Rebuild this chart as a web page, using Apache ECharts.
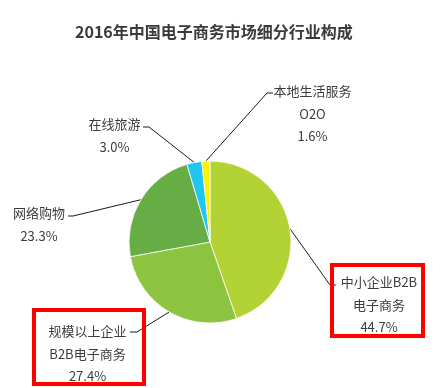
<!DOCTYPE html>
<html>
<head>
<meta charset="utf-8">
<script src="https://cdn.jsdelivr.net/npm/echarts@6/dist/echarts.min.js"></script>
<style>html,body{margin:0;padding:0;background:#fff}#c{width:447px;height:388px}</style>
</head>
<body>
<div id="c"></div>
<script>
// Data
const titleText = '2016年中国电子商务市场细分行业构成';
const categories = ['中小企业B2B\n电子商务', '规模以上企业\nB2B电子商务', '网络购物', '在线旅游', '本地生活服务\nO2O'];
const shares = [44.7, 27.4, 23.3, 3.0, 1.6];
const colors = ['#b3d334', '#8cc43f', '#67ad45', '#1fc7f0', '#fff200'];

// Label layout (text block centre-x / top, leader elbow and end)
const labelPos = [
  {x: 379, y: 271, elbow: [330, 285], end: [336, 285]},
  {x: 87.5, y: 320, elbow: [137, 332], end: [130, 332]},
  {x: 39, y: 202, elbow: [73, 216], end: [68, 216]},
  {x: 114.5, y: 113, elbow: [149, 127], end: [143, 127]},
  {x: 312.5, y: 80, elbow: [267, 93], end: [273, 93]}
];

const chart = echarts.init(document.getElementById('c'), null, {renderer: 'canvas'});
const font = '"Noto Sans CJK SC", "Microsoft YaHei", sans-serif';
chart.setOption({
  animation: false,
  title: {
    text: titleText,
    left: 70,
    top: 19,
    textStyle: {fontFamily: font, fontSize: 16, fontWeight: 'bold', color: '#3a3a3a'}
  },
  graphic: [
    {type: 'rect', shape: {x: 34, y: 310, width: 110, height: 74}, style: {fill: 'none', stroke: '#ff0000', lineWidth: 4}, z: 10},
    {type: 'rect', shape: {x: 332, y: 265, width: 91, height: 71}, style: {fill: 'none', stroke: '#ff0000', lineWidth: 4}, z: 10}
  ],
  series: [{
    type: 'pie',
    center: [210, 242],
    radius: 81,
    startAngle: 90,
    clockwise: true,
    avoidLabelOverlap: false,
    itemStyle: {borderColor: '#ffffff', borderWidth: 0.8},
    label: {
      show: true,
      position: 'outside',
      fontFamily: font,
      fontSize: 13,
      lineHeight: 22.5,
      color: '#3c3c3c',
      align: 'center',
      formatter: p => p.name + '\n' + p.value.toFixed(1) + '%'
    },
    labelLine: {show: true, length: 10, length2: 10, smooth: false, lineStyle: {color: '#1a1a1a', width: 1}},
    labelLayout: function (params) {
      const a = labelPos[params.dataIndex];
      const p0 = params.labelLinePoints ? params.labelLinePoints[0] : a.elbow;
      return {
        x: a.x, y: a.y, align: 'center', verticalAlign: 'top',
        labelLinePoints: [p0, a.elbow, a.end]
      };
    },
    data: categories.map((c, i) => ({name: c, value: shares[i], itemStyle: {color: colors[i]}}))
  }]
});
</script>
</body>
</html>
